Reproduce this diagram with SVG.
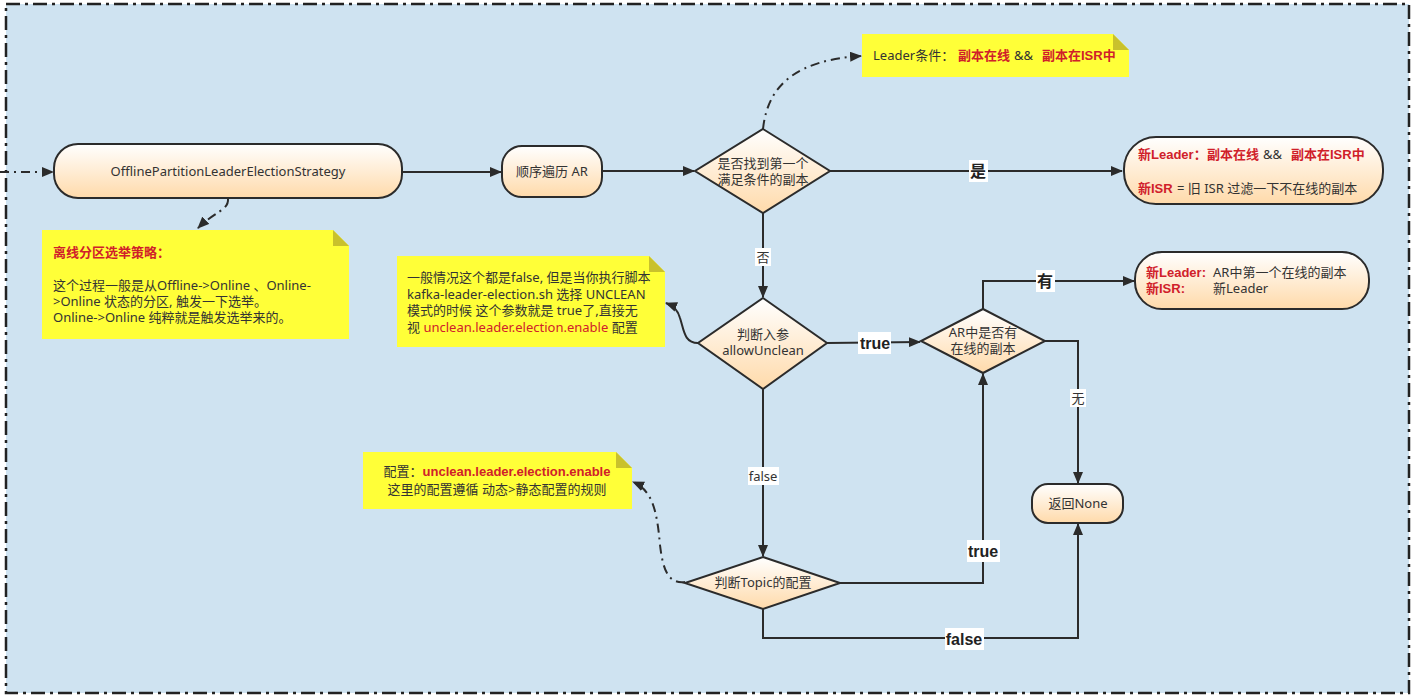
<svg xmlns="http://www.w3.org/2000/svg" width="1414" height="697" viewBox="0 0 1414 697">
<defs>
<linearGradient id="g" x1="0" y1="0" x2="0" y2="1">
<stop offset="0" stop-color="#FFFFFF"/>
<stop offset="1" stop-color="#FFDAAA"/>
</linearGradient>
<marker id="ah" viewBox="0 0 12 10" refX="11" refY="5" markerWidth="12" markerHeight="10" markerUnits="userSpaceOnUse" orient="auto">
<path d="M0,0 L12,5 L0,10 Z" fill="#2b2b2b"/>
</marker>
<style>
text{font-family:"Noto Sans","Noto Sans CJK SC",sans-serif;font-size:13px;fill:#333;}
.node{fill:url(#g);stroke:#2b2b2b;stroke-width:2;}
.note{fill:#FFFF38;}
.fold{fill:#C9C12C;}
.edge{fill:none;stroke:#2b2b2b;stroke-width:2;}
.dd{fill:none;stroke:#2b2b2b;stroke-width:2;stroke-dasharray:9,5,2,5;}
.red{fill:#D0202A;}
.rb{font-family:"Liberation Sans","Noto Sans CJK SC",sans-serif;fill:#D0202A;font-weight:bold;}
.lbl{fill:#fff;}
.big{font-family:"Liberation Sans","Noto Sans CJK SC",sans-serif;font-size:16px;font-weight:bold;fill:#222;}
.c{text-anchor:middle;}
</style>
</defs>
<rect x="0" y="0" width="1414" height="697" fill="#ffffff"/>
<rect x="6" y="4" width="1403" height="689" fill="#CFE3F1" stroke="#222" stroke-width="2.5" stroke-dasharray="14,5,3,5"/>

<g id="connectors">
<path class="dd" d="M0,172 L53,172" marker-end="url(#ah)"/>
<path class="dd" d="M228,199 C229,210 214,212 198,228" marker-end="url(#ah)"/>
<path class="edge" d="M402,172 L501,172" marker-end="url(#ah)"/>
<path class="edge" d="M602,171 L694,171" marker-end="url(#ah)"/>
<path class="dd" d="M763,129 C768,82 800,60 861,56" marker-end="url(#ah)"/>
<path class="edge" d="M830,171 L1122,171" marker-end="url(#ah)"/>
<path class="edge" d="M763,213 L763,297" marker-end="url(#ah)"/>
<path class="edge" d="M698,343 C684,343 684,330 680,318 C678,310 674,306 666,303" marker-end="url(#ah)"/>
<path class="edge" d="M827,343 L920,342" marker-end="url(#ah)"/>
<path class="edge" d="M983,309 L983,281 L1134,281" marker-end="url(#ah)"/>
<path class="edge" d="M1045,341 L1078,341 L1078,483" marker-end="url(#ah)"/>
<path class="edge" d="M763,389 L763,556" marker-end="url(#ah)"/>
<path class="edge" d="M840,583 L983,583 L983,374" marker-end="url(#ah)"/>
<path class="edge" d="M763,609 L763,638 L1078,638 L1078,524" marker-end="url(#ah)"/>
<path class="dd" d="M685,582 C668,584 663,570 660,545 C657,510 652,490 633,482" marker-end="url(#ah)"/>
<rect class="lbl" x="969" y="160" width="19" height="22"/>
<text class="big c" x="978" y="177">是</text>
<rect class="lbl" x="755" y="248" width="16" height="18"/>
<text class="c" x="763" y="262">否</text>
<rect class="lbl" x="858" y="332" width="33" height="22"/>
<text class="big c" x="875" y="349">true</text>
<rect class="lbl" x="1036" y="270" width="19" height="22"/>
<text class="big c" x="1045" y="287">有</text>
<rect class="lbl" x="1070" y="389" width="16" height="18"/>
<text class="c" x="1078" y="403">无</text>
<rect class="lbl" x="748" y="467" width="31" height="18"/>
<text class="c" x="763" y="481">false</text>
<rect class="lbl" x="967" y="540" width="33" height="22"/>
<text class="big c" x="983" y="557">true</text>
<rect class="lbl" x="945" y="628" width="39" height="22"/>
<text class="big c" x="964" y="645">false</text>
</g>

<g id="n-strategy">
<rect class="node" x="54" y="144" width="348" height="54" rx="24"/>
<text class="c" x="228" y="176">OfflinePartitionLeaderElectionStrategy</text>
</g>

<g id="note-strategy">
<path class="note" d="M42,230 H333 L349,246 V339 H42 Z"/>
<path class="fold" d="M333,230 L349,246 H333 Z"/>
<text class="rb" x="53" y="257">离线分区选举策略：</text>
<text x="53" y="290">这个过程一般是从Offline-&gt;Online 、Online-</text>
<text x="53" y="306">&gt;Online 状态的分区, 触发一下选举。</text>
<text x="53" y="322">Online-&gt;Online 纯粹就是触发选举来的。</text>
</g>

<g id="n-traverse">
<rect class="node" x="502" y="146" width="100" height="51" rx="20"/>
<text class="c" x="552" y="176">顺序遍历 AR</text>
</g>

<g id="d-find">
<path class="node" d="M763,129 L830,171 L763,213 L695,171 Z"/>
<text class="c" x="763" y="168">是否找到第一个</text>
<text class="c" x="763" y="184">满足条件的副本</text>
</g>

<g id="note-leader">
<path class="note" d="M862,34 H1113 L1129,50 V77 H862 Z"/>
<path class="fold" d="M1113,34 L1129,50 H1113 Z"/>
<text x="873" y="60">Leader条件：<tspan class="rb" x="958">副本在线</tspan><tspan x="1014">&amp;&amp;</tspan><tspan class="rb" x="1042">副本在ISR中</tspan></text>
</g>

<g id="n-result1">
<rect class="node" x="1124" y="137" width="259" height="67" rx="32"/>
<text x="1138" y="159"><tspan class="rb">新Leader：</tspan><tspan class="rb" x="1207">副本在线</tspan><tspan x="1263">&amp;&amp;</tspan><tspan class="rb" x="1291">副本在ISR中</tspan></text>
<text x="1138" y="193"><tspan class="rb">新ISR</tspan><tspan x="1177">= 旧 ISR 过滤一下不在线的副本</tspan></text>
</g>

<g id="d-allow">
<path class="node" d="M763,298 L827,343 L763,389 L698,343 Z"/>
<text class="c" x="763" y="339">判断入参</text>
<text class="c" x="763" y="355">allowUnclean</text>
</g>

<g id="note-allow">
<path class="note" d="M397,256 H649 L665,272 V347 H397 Z"/>
<path class="fold" d="M649,256 L665,272 H649 Z"/>
<text x="407" y="282">一般情况这个都是false, 但是当你执行脚本</text>
<text x="407" y="299">kafka-leader-election.sh 选择 UNCLEAN</text>
<text x="407" y="315">模式的时候 这个参数就是 true了,直接无</text>
<text x="407" y="332">视 <tspan class="red">unclean.leader.election.enable</tspan> 配置</text>
</g>

<g id="d-ar">
<path class="node" d="M983,309 L1045,341 L983,373 L921,341 Z"/>
<text class="c" x="983" y="337">AR中是否有</text>
<text class="c" x="983" y="353">在线的副本</text>
</g>

<g id="n-result2">
<rect class="node" x="1135" y="252" width="234" height="57" rx="27"/>
<text x="1146" y="277"><tspan class="rb">新Leader:</tspan><tspan x="1213">AR中第一个在线的副本</tspan></text>
<text x="1146" y="293"><tspan class="rb">新ISR:</tspan><tspan x="1213">新Leader</tspan></text>
</g>

<g id="n-none">
<rect class="node" x="1032" y="484" width="91" height="39" rx="16"/>
<text class="c" x="1078" y="508">返回None</text>
</g>

<g id="d-topic">
<path class="node" d="M763,557 L840,583 L763,609 L685,583 Z"/>
<text class="c" x="763" y="587">判断Topic的配置</text>
</g>

<g id="note-topic">
<path class="note" d="M363,452 H616 L632,468 V509 H363 Z"/>
<path class="fold" d="M616,452 L632,468 H616 Z"/>
<text class="c" x="497" y="476">配置：<tspan class="rb">unclean.leader.election.enable</tspan></text>
<text class="c" x="497" y="494">这里的配置遵循 动态&gt;静态配置的规则</text>
</g>
</svg>
